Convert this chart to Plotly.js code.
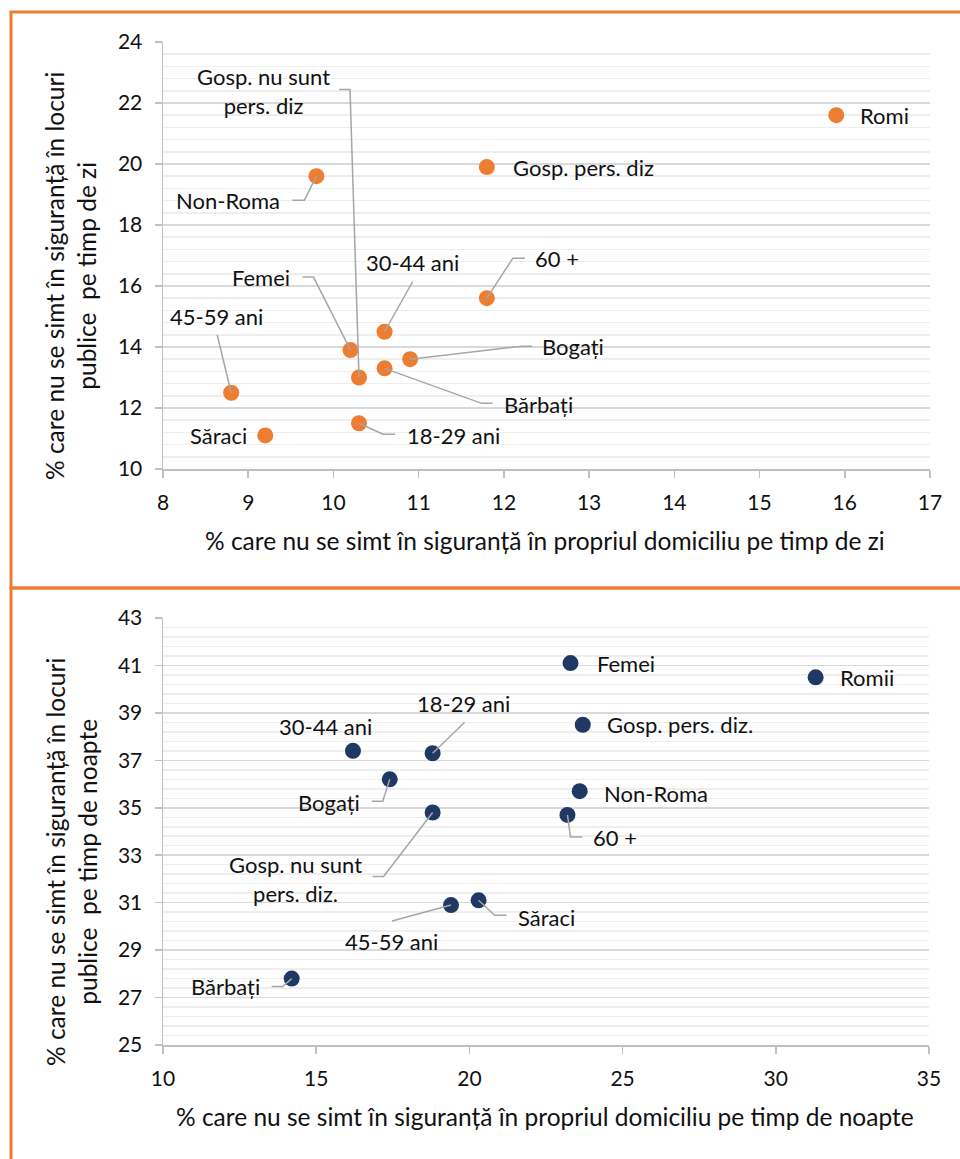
<!DOCTYPE html>
<html>
<head>
<meta charset="utf-8">
<script src="https://cdn.plot.ly/plotly-3.0.1.min.js"></script>
<style>
  html, body { margin: 0; padding: 0; background: #fff; }
  #chart { width: 960px; height: 1159px; }
</style>
</head>
<body>
<div id="chart"></div>
<script>
// ---------- DATA ----------
const dayCategories = ['Romi', 'Gosp. pers. diz', 'Non-Roma', '60 +', '30-44 ani', 'Femei',
  'Gosp. nu sunt<br>pers. diz', '45-59 ani', 'Bogați', 'Bărbați', 'Săraci', '18-29 ani'];
const dayHome   = [15.9, 11.8, 9.8, 11.8, 10.6, 10.2, 10.3, 8.8, 10.9, 10.6, 9.2, 10.3];
const dayPublic = [21.6, 19.9, 19.6, 15.6, 14.5, 13.9, 13.0, 12.5, 13.6, 13.3, 11.1, 11.5];

const nightCategories = ['Femei', 'Romii', 'Gosp. pers. diz.', 'Non-Roma', '60 +', '30-44 ani',
  '18-29 ani', 'Bogați', 'Gosp. nu sunt<br>pers. diz.', 'Săraci', '45-59 ani', 'Bărbați'];
const nightHome   = [23.3, 31.3, 23.7, 23.6, 23.2, 16.2, 18.8, 17.4, 18.8, 20.3, 19.4, 14.2];
const nightPublic = [41.1, 40.5, 38.5, 35.7, 34.7, 37.4, 37.3, 36.2, 34.8, 31.1, 30.9, 27.8];

const dayXTicks   = [8, 9, 10, 11, 12, 13, 14, 15, 16, 17];
const dayYTicks   = [10, 12, 14, 16, 18, 20, 22, 24];
const nightXTicks = [10, 15, 20, 25, 30, 35];
const nightYTicks = [25, 27, 29, 31, 33, 35, 37, 39, 41, 43];

const dayTitleX   = '% care nu se simt în siguranță în propriul domiciliu pe timp de zi';
const dayTitleY   = '% care nu se simt în siguranță în locuri<br>publice  pe timp de zi';
const nightTitleX = '% care nu se simt în siguranță în propriul domiciliu pe timp de noapte';
const nightTitleY = '% care nu se simt în siguranță în locuri<br>publice  pe timp de noapte';

// ---------- LABEL PLACEMENT (screen pixels, y down, relative to the point) ----------
const dayLabelPos = [
  {dx: 22, dy: 0, a: 'left'},
  {dx: 24, dy: 0, a: 'left'},
  {dx: -34, dy: 24, a: 'right', leader: [[-24, 24], [-12, 24], [0, 0]]},
  {dx: 46, dy: -40, a: 'left', leader: [[0, 0], [26, -40], [38, -40]]},
  {dx: 28, dy: -69, a: 'center', leader: [[0, 0], [28, -50]]},
  {dx: -58, dy: -73, a: 'right', leader: [[-48, -73], [-37, -73], [0, 0]]},
  {dx: -96, dy: -287, a: 'center', leader: [[-20, -288], [-9, -288], [0, 0]]},
  {dx: -15, dy: -76, a: 'center', leader: [[-14, -58], [0, 0]]},
  {dx: 130, dy: -13, a: 'left', leader: [[0, 0], [112, -13], [122, -13]]},
  {dx: 117, dy: 36, a: 'left', leader: [[0, 0], [97, 35], [108, 35]]},
  {dx: -16, dy: 0, a: 'right'},
  {dx: 46, dy: 12, a: 'left', leader: [[0, 0], [24, 11], [36, 11]]}
];
const nightLabelPos = [
  {dx: 24, dy: 0, a: 'left'},
  {dx: 22, dy: 0, a: 'left'},
  {dx: 22, dy: 0, a: 'left'},
  {dx: 22, dy: 2, a: 'left'},
  {dx: 24, dy: 23, a: 'left', leader: [[0, 0], [3, 22], [15, 22]]},
  {dx: -27, dy: -24, a: 'center'},
  {dx: 31, dy: -50, a: 'center', leader: [[0, 0], [32, -31]]},
  {dx: -28, dy: 23, a: 'right', leader: [[-18, 22], [-7, 22], [0, 0]]},
  {dx: -137, dy: 66, a: 'center', leader: [[-60, 64], [-49, 64], [0, 0]]},
  {dx: 37, dy: 17, a: 'left', leader: [[0, 0], [16, 15], [28, 15]]},
  {dx: -60, dy: 36, a: 'center', leader: [[-59, 16], [0, 0]]},
  {dx: -30, dy: 8, a: 'right', leader: [[-20, 8], [-9, 8], [0, 0]]}
];

// ---------- STYLE ----------
const W = 960, H = 1159;
const FONT = 'Lato, "Open Sans", sans-serif';
const TXT = '#111';
const ORANGE = '#ed7d31';
const NAVY = '#203864';
const LEADER = '#a6a6a6';
const LABEL_SIZE = 22, TICK_SIZE = 21, TITLE_SIZE = 24.5;
const px = v => v / W;
const py = v => 1 - v / H;

const traces = [
  {type: 'scatter', mode: 'markers', x: dayHome, y: dayPublic, text: dayCategories,
   xaxis: 'x', yaxis: 'y', marker: {color: ORANGE, size: 16}, hoverinfo: 'text+x+y'},
  {type: 'scatter', mode: 'markers', x: nightHome, y: nightPublic, text: nightCategories,
   xaxis: 'x2', yaxis: 'y2', marker: {color: NAVY, size: 16}, hoverinfo: 'text+x+y'}
];

function xAxis(domain, range, ticks, anchor) {
  return {
    domain: domain, range: range, tickvals: ticks, anchor: anchor,
    showgrid: false, zeroline: false, showline: true, linecolor: '#bfbfbf', linewidth: 1.5,
    ticks: 'outside', ticklen: 7, tickwidth: 1.5, tickcolor: '#bfbfbf',
    tickfont: {family: FONT, size: TICK_SIZE, color: TXT}, ticklabelstandoff: 7, fixedrange: true
  };
}
function yAxis(domain, range, ticks, anchor) {
  return {
    domain: domain, range: range, tickvals: ticks, anchor: anchor,
    showgrid: true, gridcolor: '#d9d9d9', gridwidth: 1.5, zeroline: false,
    showline: true, linecolor: '#bfbfbf', linewidth: 1.5,
    ticks: 'outside', ticklen: 7, tickwidth: 1.5, tickcolor: '#bfbfbf',
    minor: {dtick: 0.4, tick0: ticks[0], showgrid: true, gridcolor: '#eeeeee', gridwidth: 1.5, ticks: ''},
    tickfont: {family: FONT, size: TICK_SIZE, color: TXT}, ticklabelstandoff: 8, fixedrange: true
  };
}

const annotations = [];
const shapes = [];

function addLabels(cats, xs, ys, pos, xref, yref) {
  cats.forEach((c, i) => {
    const p = pos[i];
    annotations.push({
      text: c, x: xs[i], y: ys[i], xref: xref, yref: yref,
      xshift: p.dx, yshift: -p.dy, xanchor: p.a, yanchor: 'middle', align: 'center',
      showarrow: false, font: {family: FONT, size: LABEL_SIZE, color: TXT}
    });
    if (p.leader) {
      const path = p.leader.map((pt, k) => (k === 0 ? 'M' : 'L') + pt[0] + ',' + (-pt[1])).join(' ');
      shapes.push({
        type: 'path', xref: xref, yref: yref, xsizemode: 'pixel', ysizemode: 'pixel',
        xanchor: xs[i], yanchor: ys[i], path: path,
        line: {color: LEADER, width: 1.5}, layer: 'above'
      });
    }
  });
}
addLabels(dayCategories, dayHome, dayPublic, dayLabelPos, 'x', 'y');
addLabels(nightCategories, nightHome, nightPublic, nightLabelPos, 'x2', 'y2');

// axis titles
annotations.push(
  {text: dayTitleX, xref: 'paper', yref: 'paper', x: px(545), y: py(540), showarrow: false,
   xanchor: 'center', yanchor: 'middle', font: {family: FONT, size: TITLE_SIZE, color: TXT}},
  {text: dayTitleY, xref: 'paper', yref: 'paper', x: px(71), y: py(276), showarrow: false,
   textangle: -90, xanchor: 'center', yanchor: 'middle', align: 'center',
   font: {family: FONT, size: TITLE_SIZE, color: TXT}},
  {text: nightTitleX, xref: 'paper', yref: 'paper', x: px(545), y: py(1116), showarrow: false,
   xanchor: 'center', yanchor: 'middle', font: {family: FONT, size: TITLE_SIZE, color: TXT}},
  {text: nightTitleY, xref: 'paper', yref: 'paper', x: px(71), y: py(862), showarrow: false,
   textangle: -90, xanchor: 'center', yanchor: 'middle', align: 'center',
   font: {family: FONT, size: TITLE_SIZE, color: TXT}}
);

// orange panel borders
shapes.push(
  {type: 'rect', xref: 'paper', yref: 'paper', x0: px(11), x1: px(975), y0: py(588), y1: py(12),
   line: {color: ORANGE, width: 3}, layer: 'below'},
  {type: 'rect', xref: 'paper', yref: 'paper', x0: px(11), x1: px(975), y0: py(1175), y1: py(588),
   line: {color: ORANGE, width: 3}, layer: 'below'}
);

const layout = {
  width: W, height: H,
  margin: {l: 0, r: 0, t: 0, b: 0},
  paper_bgcolor: '#fff', plot_bgcolor: '#fff',
  showlegend: false,
  font: {family: FONT, color: TXT},
  xaxis: xAxis([px(163), px(930)], [8, 17], dayXTicks, 'y'),
  yaxis: yAxis([py(469), py(42)], [10, 24], dayYTicks, 'x'),
  xaxis2: xAxis([px(163), px(929)], [10, 35], nightXTicks, 'y2'),
  yaxis2: yAxis([py(1045), py(618)], [25, 43], nightYTicks, 'x2'),
  annotations: annotations,
  shapes: shapes
};

Plotly.newPlot('chart', traces, layout, {displayModeBar: false, staticPlot: true});
</script>
</body>
</html>
